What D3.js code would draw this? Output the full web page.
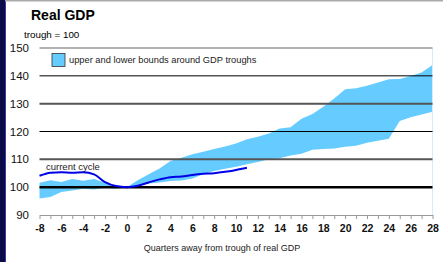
<!DOCTYPE html>
<html>
<head>
<meta charset="utf-8">
<script src="https://cdn.jsdelivr.net/npm/d3@7"></script>
<style>
  body { margin: 0; background: #fff; }
  svg { display: block; font-family: 'Liberation Sans', Arial, sans-serif; }
  .axis path, .axis line { stroke: #999; }
  .axis text { font-size: 10.5px; fill: #111; }
</style>
</head>
<body>
<svg></svg>
<script>
var width = 443;
var height = 262;

// quarters away from trough
var quarters = d3.range(-8, 29);
var upperBound = [101.6, 102.5, 101.9, 102.9, 102.3, 102.9, 101.6, 100.4, 100,
	102.5, 104.6, 106.7, 109.4, 110.6, 111.8, 112.7, 113.7, 114.6, 115.7, 117.2,
	118.1, 119.3, 121.1, 121.5, 124.6, 126.3, 128.9, 131.9, 135.2, 135.5, 136.4,
	137.6, 138.8, 138.9, 139.9, 141.2, 143.9];
var lowerBound = [95.9, 96.5, 98.3, 98.8, 99.4, 99.2, 99.9, 99.4, 100,
	100.4, 101.3, 101.7, 102.2, 102.4, 103.1, 104.6, 105.8, 106.6, 107.3, 108.2,
	109.0, 110.0, 110.4, 111.4, 112.0, 113.4, 113.7, 113.9, 114.5, 114.9, 116.0,
	116.7, 117.4, 123.8, 125.1, 126.1, 127.1];
var currentQuarters = d3.range(-8, 12);
var currentCycle = [104.1, 105.2, 105.4, 105.2, 105.4, 104.6, 101.8, 100.4, 100,
	100.5, 101.7, 102.8, 103.6, 103.8, 104.4, 104.8, 105.0, 105.5, 106.2, 107.0];
var yTicks = [90, 100, 110, 120, 130, 140, 150];

var svg = d3.select('svg')
			.attr('width', width)
			.attr('height', height);

// slide frame
svg.append('rect')
	.attr('x', 0).attr('y', 0)
	.attr('width', 5).attr('height', height)
	.attr('fill', '#0b0b48');
svg.append('line')
	.attr('x1', 5.5).attr('x2', 5.5).attr('y1', 0).attr('y2', height)
	.attr('stroke', '#3a3aa0').attr('stroke-width', 1);
svg.append('line')
	.attr('x1', 5).attr('x2', width).attr('y1', 0.75).attr('y2', 0.75)
	.attr('stroke', '#aaa').attr('stroke-width', 1.5);

var xScale = d3.scaleLinear()
			   .domain([-8, 28])
			   .range([39.5, 432.5]);
var yScale = d3.scaleLinear()
			   .domain([90, 150])
			   .range([215, 48]);

var band = quarters.map((q, i) => ({q: q, hi: upperBound[i], lo: lowerBound[i]}));

svg.append('path')
	.datum(band)
	.attr('fill', '#66ccff')
	.attr('d', d3.area()
		.x(d => xScale(d.q))
		.y0(d => yScale(d.lo))
		.y1(d => yScale(d.hi)));

// plot right edge
svg.append('line')
	.attr('x1', xScale(28)).attr('x2', xScale(28))
	.attr('y1', yScale(150)).attr('y2', yScale(90))
	.attr('stroke', '#d4ecff').attr('stroke-width', 1);

// gridlines
var gridStyle = {150: ['#999', 1.5], 140: ['#000', 1], 130: ['#555', 2],
	120: ['#000', 1], 110: ['#555', 2], 100: ['#000', 2.5]};
svg.selectAll('.grid')
	.data(yTicks.filter(t => t > 90))
	.enter()
	.append('line')
	  .classed('grid', true)
	  .attr('x1', xScale(-8))
	  .attr('x2', xScale(28))
	  .attr('y1', d => yScale(d))
	  .attr('y2', d => yScale(d))
	  .attr('stroke', d => gridStyle[d][0])
	  .attr('stroke-width', d => gridStyle[d][1]);

svg.append('path')
	.datum(currentQuarters.map((q, i) => ({q: q, v: currentCycle[i]})))
	.attr('fill', 'none')
	.attr('stroke', '#0000e6')
	.attr('stroke-width', 2)
	.attr('d', d3.line()
		.curve(d3.curveMonotoneX)
		.x(d => xScale(d.q))
		.y(d => yScale(d.v)));

var xAxis = d3.axisBottom(xScale)
			  .tickValues(quarters)
			  .tickSize(4)
			  .tickSizeOuter(0)
			  .tickPadding(6)
			  .tickFormat(d => d % 2 === 0 ? d : '');
svg.append('g')
	.classed('axis', true)
	.attr('transform', `translate(0, ${yScale(90)})`)
	.call(xAxis)
	.selectAll('text')
	  .attr('font-weight', 'bold')
	  .attr('fill', '#222');

svg.selectAll('.ylabel')
	.data(yTicks)
	.enter()
	.append('text')
	  .classed('ylabel', true)
	  .attr('x', 29)
	  .attr('y', d => yScale(d))
	  .attr('dy', '0.35em')
	  .attr('text-anchor', 'end')
	  .attr('font-size', '11.5px')
	  .attr('fill', '#111')
	  .text(d => d);

svg.append('text')
	.attr('x', 31).attr('y', 20)
	.attr('font-size', '14px')
	.attr('font-weight', 'bold')
	.text('Real GDP');
svg.append('text')
	.attr('x', 24).attr('y', 38)
	.attr('font-size', '9.8px')
	.text('trough = 100');

// legend
svg.append('rect')
	.attr('x', 52).attr('y', 53.5)
	.attr('width', 13).attr('height', 13)
	.attr('fill', '#66ccff')
	.attr('stroke', '#333')
	.attr('stroke-width', 0.8);
svg.append('text')
	.attr('x', 69).attr('y', 63)
	.attr('font-size', '9.3px')
	.attr('fill', '#222')
	.text('upper and  lower bounds around GDP troughs');

svg.append('text')
	.attr('x', 46).attr('y', 170)
	.attr('font-size', '9.5px')
	.attr('fill', '#222')
	.text('current cycle');

svg.append('text')
	.attr('x', 222)
	.attr('y', 251)
	.attr('text-anchor', 'middle')
	.attr('font-size', '9px')
	.attr('fill', '#222')
	.text('Quarters away from trough of real GDP');
</script>
</body>
</html>
